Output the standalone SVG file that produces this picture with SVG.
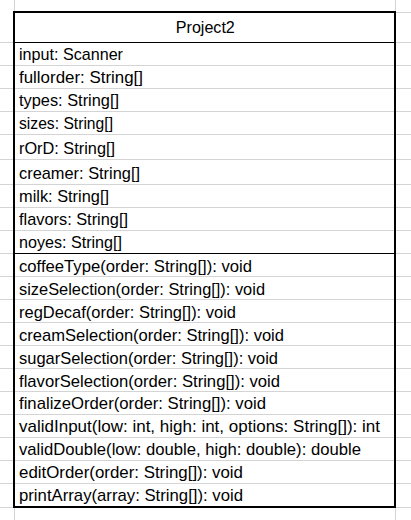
<svg xmlns="http://www.w3.org/2000/svg" width="411" height="520" viewBox="0 0 411 520">
<style>
.grid{stroke:#d4d4d4;stroke-width:1;fill:none}
.t{font-family:"Liberation Sans",Arial,sans-serif;font-size:17px;fill:#000}
.title{text-anchor:middle}
.border{fill:none;stroke:#000;stroke-width:2}
.sep{stroke:#000;stroke-width:1}
</style>
<rect x="0" y="0" width="411" height="520" fill="#fff"/>
<g id="grid">
<path class="grid" d="M14.5 0V520M395.5 0V520M395 12.5H411M0 42.5H411M0 65.5H411M0 88.5H411M0 111.5H411M0 134.5H411M0 159.5H411M0 184.5H411M0 207.5H411M0 230.5H411M0 253.5H411M0 276.5H411M0 299.5H411M0 322.5H411M0 345.5H411M0 368.5H411M0 391.5H411M0 414.5H411M0 437.5H411M0 460.5H411M0 483.5H411M0 507.5H411"/>
</g>
<g id="connectors"/>
<g id="Project2">
<rect class="border" x="14" y="12" width="381" height="495"/>
<line class="sep" x1="14" y1="42.5" x2="395" y2="42.5"/>
<line class="sep" x1="14" y1="253.5" x2="395" y2="253.5"/>
<text class="t title" x="205.3" y="33" textLength="59" lengthAdjust="spacingAndGlyphs">Project2</text>
<text class="t" x="19" y="60" textLength="104" lengthAdjust="spacingAndGlyphs">input: Scanner</text>
<text class="t" x="19" y="83" textLength="124" lengthAdjust="spacingAndGlyphs">fullorder: String[]</text>
<text class="t" x="19" y="106" textLength="100" lengthAdjust="spacingAndGlyphs">types: String[]</text>
<text class="t" x="19" y="129" textLength="94" lengthAdjust="spacingAndGlyphs">sizes: String[]</text>
<text class="t" x="19" y="154" textLength="96" lengthAdjust="spacingAndGlyphs">rOrD: String[]</text>
<text class="t" x="19" y="178.5" textLength="121" lengthAdjust="spacingAndGlyphs">creamer: String[]</text>
<text class="t" x="19" y="201.5" textLength="90" lengthAdjust="spacingAndGlyphs">milk: String[]</text>
<text class="t" x="19" y="224.5" textLength="109" lengthAdjust="spacingAndGlyphs">flavors: String[]</text>
<text class="t" x="19" y="247.5" textLength="103" lengthAdjust="spacingAndGlyphs">noyes: String[]</text>
<text class="t" x="19" y="271.5" textLength="233" lengthAdjust="spacingAndGlyphs">coffeeType(order: String[]): void</text>
<text class="t" x="19" y="294.5" textLength="246" lengthAdjust="spacingAndGlyphs">sizeSelection(order: String[]): void</text>
<text class="t" x="19" y="317.5" textLength="217" lengthAdjust="spacingAndGlyphs">regDecaf(order: String[]): void</text>
<text class="t" x="19" y="340.5" textLength="265" lengthAdjust="spacingAndGlyphs">creamSelection(order: String[]): void</text>
<text class="t" x="19" y="363.5" textLength="259" lengthAdjust="spacingAndGlyphs">sugarSelection(order: String[]): void</text>
<text class="t" x="19" y="386.5" textLength="261" lengthAdjust="spacingAndGlyphs">flavorSelection(order: String[]): void</text>
<text class="t" x="19" y="408.5" textLength="247" lengthAdjust="spacingAndGlyphs">finalizeOrder(order: String[]): void</text>
<text class="t" x="19" y="431.5" textLength="361" lengthAdjust="spacingAndGlyphs">validInput(low: int, high: int, options: String[]): int</text>
<text class="t" x="19" y="454.5" textLength="342" lengthAdjust="spacingAndGlyphs">validDouble(low: double, high: double): double</text>
<text class="t" x="19" y="477.5" textLength="224" lengthAdjust="spacingAndGlyphs">editOrder(order: String[]): void</text>
<text class="t" x="19" y="500.5" textLength="224" lengthAdjust="spacingAndGlyphs">printArray(array: String[]): void</text>
</g>
</svg>
